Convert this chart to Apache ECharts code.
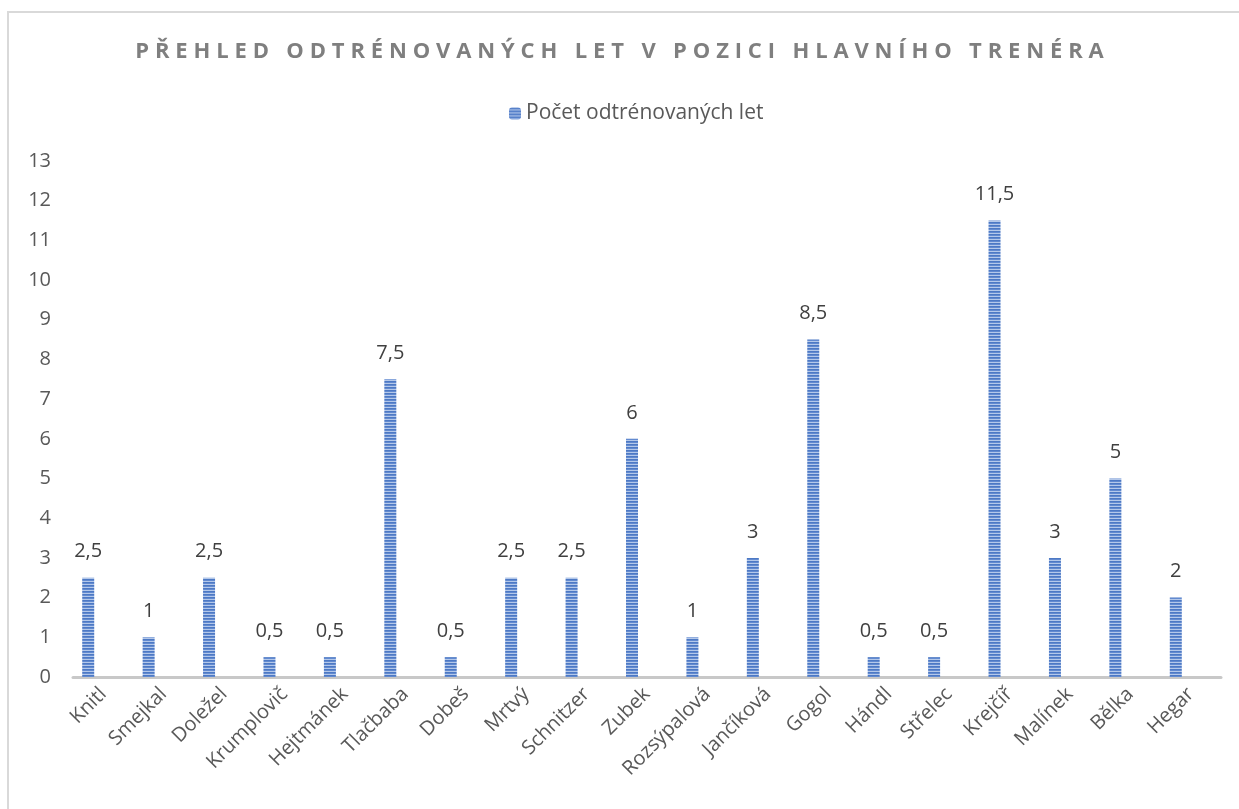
<!DOCTYPE html>
<html>
<head>
<meta charset="utf-8">
<script src="https://cdn.jsdelivr.net/npm/echarts@6/dist/echarts.min.js"></script>
<style>
  html, body { margin: 0; padding: 0; background: #fff; }
  #chart { width: 1239px; height: 809px; }
</style>
</head>
<body>
<div id="chart"></div>
<script>
const titleText = "PŘEHLED ODTRÉNOVANÝCH LET V POZICI HLAVNÍHO TRENÉRA";
const seriesName = "Počet odtrénovaných let";
const coaches = ["Knitl", "Smejkal", "Doležel", "Krumplovič", "Hejtmánek", "Tlačbaba", "Dobeš", "Mrtvý", "Schnitzer", "Zubek",
  "Rozsýpalová", "Jančíková", "Gogol", "Hándl", "Střelec", "Krejčíř", "Malínek", "Bělka", "Hegar"];
const years = [2.5, 1, 2.5, 0.5, 0.5, 7.5, 0.5, 2.5, 2.5, 6, 1, 3, 8.5, 0.5, 0.5, 11.5, 3, 5, 2];
const yTicks = { min: 0, max: 13, interval: 1 };

// letter-spaced title (thin + hair space between letters)
function spaced(s) {
  const gap = "\u2009\u200A";
  return s.split(" ").map(w => w.split("").join(gap)).join(gap + " " + gap);
}

// horizontal stripe fill like the original
function stripes() {
  const c = document.createElement("canvas");
  c.width = 4; c.height = 3;
  const g = c.getContext("2d");
  g.fillStyle = "#4d79c4"; g.fillRect(0, 0, 4, 1);
  g.fillStyle = "#628ad0"; g.fillRect(0, 1, 4, 1);
  g.fillStyle = "#b4c8ea"; g.fillRect(0, 2, 4, 1);
  return { image: c, repeat: "repeat" };
}

const font = "'Open Sans', 'Noto Sans', sans-serif";
let myChart = echarts.init(document.getElementById("chart"));
myChart.setOption({
  animation: false,
  textStyle: { fontFamily: font },
  graphic: [{
    type: "rect",
    shape: { x: 8, y: 12, width: 1400, height: 1000 },
    style: { fill: "none", stroke: "#d9d9d9", lineWidth: 2 },
    silent: true
  }],
  title: {
    text: spaced(titleText),
    left: "center",
    top: 36,
    textStyle: { fontFamily: font, fontSize: 22, fontWeight: "bold", color: "#7f7f7f" }
  },
  legend: {
    data: [seriesName],
    top: 98,
    left: 504,
    itemWidth: 12,
    itemHeight: 12,
    itemGap: 5,
    textStyle: { fontFamily: font, fontSize: 21, color: "#595959" }
  },
  grid: { left: 73, right: 18, top: 161, bottom: 132 },
  xAxis: {
    type: "category",
    data: coaches,
    axisLine: { lineStyle: { color: "#c8c8c8", width: 3 } },
    axisTick: { show: false },
    axisLabel: { rotate: 45, interval: 0, margin: 14, fontSize: 20, color: "#595959" }
  },
  yAxis: {
    type: "value",
    min: yTicks.min,
    max: yTicks.max,
    interval: yTicks.interval,
    axisLine: { show: false },
    axisTick: { show: false },
    splitLine: { show: false },
    axisLabel: { margin: 22, fontSize: 20, color: "#595959" }
  },
  series: [
    {
      name: seriesName,
      type: "bar",
      data: years,
      barWidth: 12,
      barGap: "150%",
      itemStyle: { color: stripes() },
      label: {
        show: true,
        position: "top",
        distance: 16,
        fontSize: 20,
        color: "#404040",
        formatter: p => String(p.value).replace(".", ",")
      }
    },
    {
      name: "",
      type: "bar",
      data: [],
      barWidth: 12
    }
  ]
});
</script>
</body>
</html>
